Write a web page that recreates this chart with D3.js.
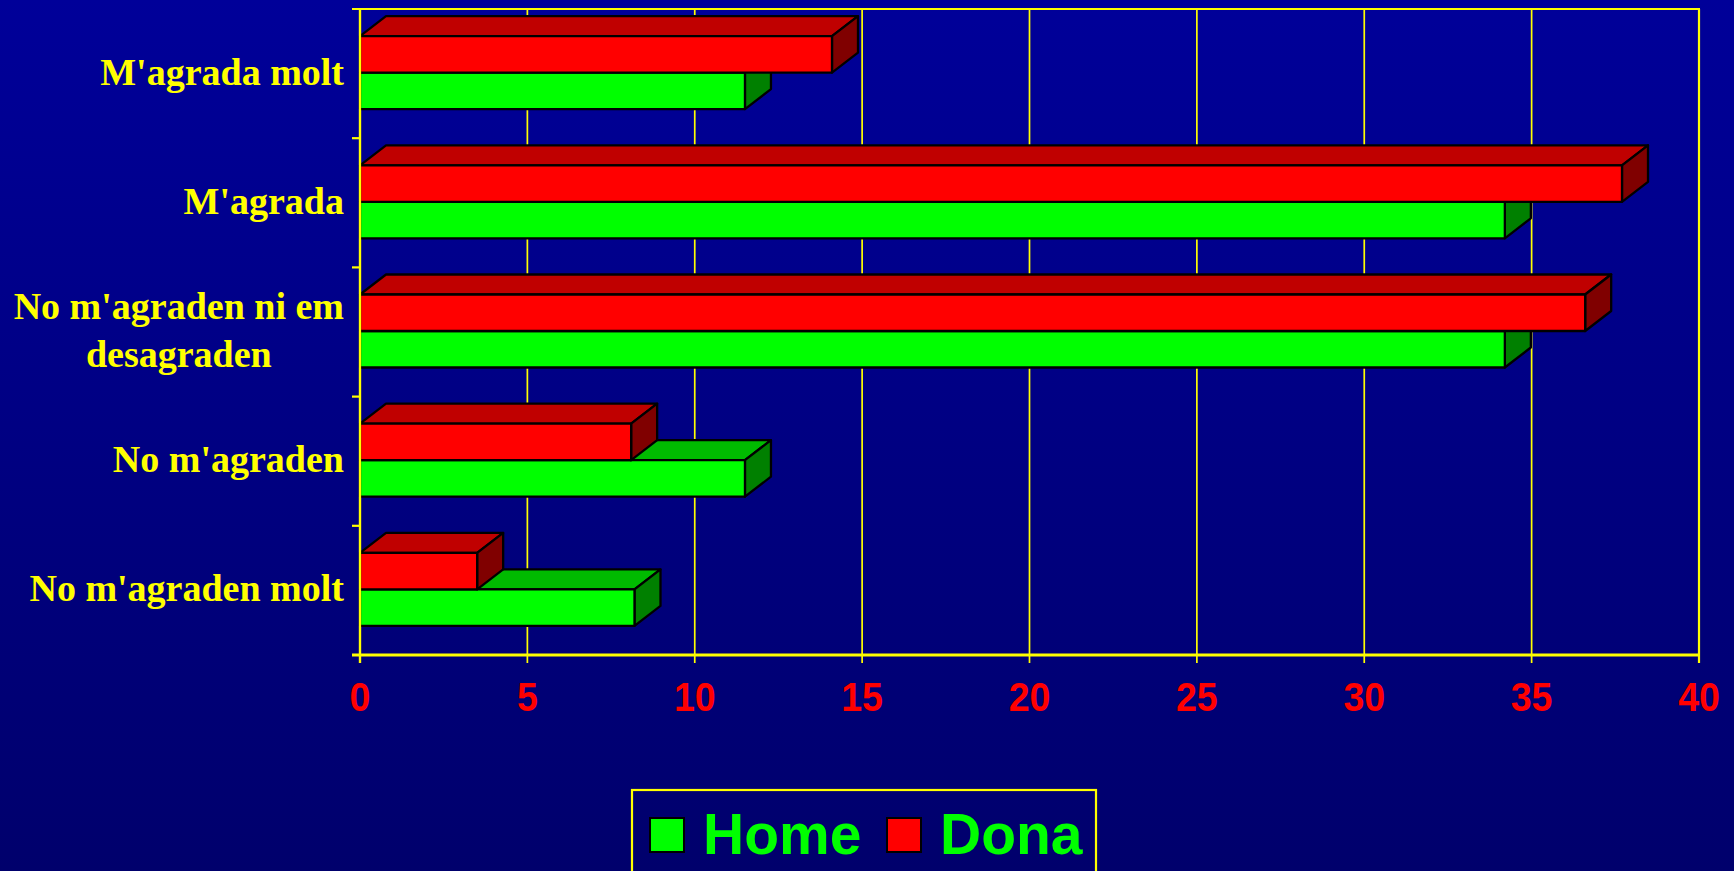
<!DOCTYPE html>
<html>
<head>
<meta charset="utf-8">
<script src="https://cdn.jsdelivr.net/npm/d3@7"></script>
<style>
  html, body { margin: 0; padding: 0; overflow: hidden; background: #000080; }
  svg { display: block; }
</style>
</head>
<body>
<svg id="chart" width="1734" height="871"></svg>
<script>
const categories = ["M'agrada molt", "M'agrada", "No m'agraden ni em desagraden", "No m'agraden", "No m'agraden molt"];
const labelLines = [["M'agrada molt"], ["M'agrada"], ["No m'agraden ni em", "desagraden"], ["No m'agraden"], ["No m'agraden molt"]];
const home = [11.5, 34.2, 34.2, 11.5, 8.2];
const dona = [14.1, 37.7, 36.6, 8.1, 3.5];
const xTicks = [0, 5, 10, 15, 20, 25, 30, 35, 40];
const seriesNames = ["Home", "Dona"];

const W = 1734, H = 871;
const svg = d3.select("#chart");

// background gradient
const defs = svg.append("defs");
const grad = defs.append("linearGradient").attr("id", "bg").attr("x1", 0).attr("y1", 0).attr("x2", 0).attr("y2", 1);
grad.append("stop").attr("offset", "0%").attr("stop-color", "#000099");
grad.append("stop").attr("offset", "100%").attr("stop-color", "#00006c");
svg.append("rect").attr("width", W).attr("height", H).attr("fill", "url(#bg)");

const x = d3.scaleLinear().domain([0, 40]).range([360, 1699]);
const y = d3.scaleBand().domain(categories).range([9, 655]).padding(0);

const yellow = "#ffff00";
const dx = 26, dy = 20, barH = 36.5;

// vertical gridlines (extend below axis as ticks)
svg.append("g").selectAll("line").data(xTicks).join("line")
  .attr("x1", d => x(d)).attr("x2", d => x(d))
  .attr("y1", 9).attr("y2", 663)
  .attr("stroke", yellow).attr("stroke-width", d => (d === 0 || d === 40) ? 2.2 : 1.7);

// top frame line (extends left as tick)
svg.append("line").attr("x1", 352).attr("x2", x(40) + 1).attr("y1", 9).attr("y2", 9)
  .attr("stroke", yellow).attr("stroke-width", 2.2);

// left axis ticks at band boundaries
const bounds = categories.map(c => y(c)).concat([y.range()[1]]);
svg.append("g").selectAll("line").data(bounds.slice(1, -1)).join("line")
  .attr("x1", 352).attr("x2", 360).attr("y1", d => d).attr("y2", d => d)
  .attr("stroke", yellow).attr("stroke-width", 2.2);

// bottom axis
svg.append("line").attr("x1", 352).attr("x2", x(40) + 1).attr("y1", 655).attr("y2", 655)
  .attr("stroke", yellow).attr("stroke-width", 3);

// 3D bars
function bar3d(g, x0, x1, top, bottom, cFront, cTop, cSide) {
  const poly = (pts, fill) => g.append("polygon")
    .attr("points", pts.map(q => q.join(",")).join(" "))
    .attr("fill", fill).attr("stroke", "#000").attr("stroke-width", 2.3)
    .attr("stroke-linejoin", "round");
  poly([[x0, top], [x0 + dx, top - dy], [x1 + dx, top - dy], [x1, top]], cTop);
  poly([[x1, top], [x1 + dx, top - dy], [x1 + dx, bottom - dy], [x1, bottom]], cSide);
  poly([[x0, top], [x1, top], [x1, bottom], [x0, bottom]], cFront);
}

const barsG = svg.append("g");
categories.forEach((c, i) => {
  const mid = y(c) + y.bandwidth() / 2 - 1;
  const g = barsG.append("g");
  bar3d(g, x(0), x(home[i]), mid, mid + barH, "#00ff00", "#00bb00", "#008000");
  bar3d(g, x(0), x(dona[i]), mid - barH, mid, "#ff0000", "#c00000", "#800000");
});

// left axis line (drawn over bars' left edges)
svg.append("line").attr("x1", 360).attr("x2", 360).attr("y1", 9).attr("y2", 663)
  .attr("stroke", yellow).attr("stroke-width", 2.2);

// category labels
const labG = svg.append("g")
  .attr("font-family", "'Liberation Serif', 'Times New Roman', serif")
  .attr("font-weight", "bold").attr("font-size", 38).attr("fill", yellow);
categories.forEach((c, i) => {
  const center = y(c) + y.bandwidth() / 2;
  const lines = labelLines[i];
  if (lines.length === 1) {
    labG.append("text").attr("x", 344).attr("y", center + 11).attr("text-anchor", "end").text(lines[0]);
  } else {
    const t = labG.append("text").attr("text-anchor", "middle");
    lines.forEach((ln, k) => {
      t.append("tspan").attr("x", 0).attr("y", center + 11 - 24 * (lines.length - 1) + 48 * k).text(ln);
    });
    const w = d3.max(t.selectAll("tspan").nodes(), n => n.getComputedTextLength());
    t.selectAll("tspan").attr("x", 344 - w / 2);
  }
});

// x tick labels (slightly tall, condensed look)
svg.append("g").selectAll("text").data(xTicks).join("text")
  .attr("transform", d => `translate(${x(d)},711) scale(1,1.08)`)
  .attr("text-anchor", "middle")
  .attr("font-family", "'Liberation Sans', Arial, sans-serif")
  .attr("font-weight", "bold").attr("font-size", 37.5)
  .attr("fill", "#ff0000")
  .text(d => d);

// legend
const leg = svg.append("g");
leg.append("rect").attr("x", 632).attr("y", 790).attr("width", 464).attr("height", 120)
  .attr("fill", "none").attr("stroke", yellow).attr("stroke-width", 2.2);
const legColors = ["#00ff00", "#ff0000"];
const legX = [650, 887];
seriesNames.forEach((s, i) => {
  leg.append("rect").attr("x", legX[i]).attr("y", 818).attr("width", 34).attr("height", 34)
    .attr("fill", legColors[i]).attr("stroke", "#000").attr("stroke-width", 2);
  leg.append("text").attr("x", legX[i] + 53).attr("y", 854)
    .attr("font-family", "'Liberation Sans', Arial, sans-serif")
    .attr("font-weight", "bold").attr("font-size", 57)
    .attr("fill", "#00ff00").text(s);
});
</script>
</body>
</html>
